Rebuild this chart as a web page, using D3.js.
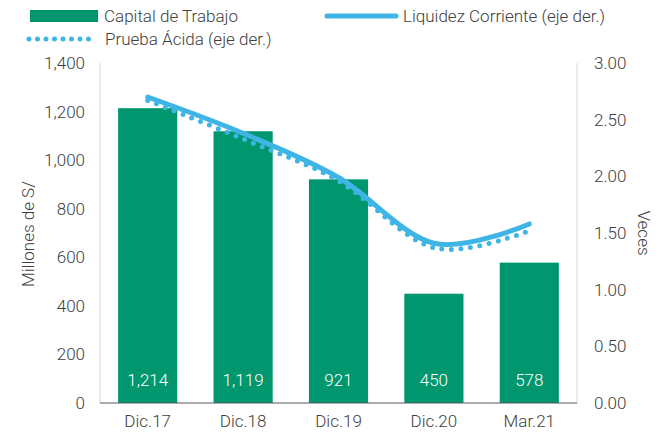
<!DOCTYPE html>
<html><head><meta charset="utf-8">
<script src="https://cdn.jsdelivr.net/npm/d3@7"></script>
<style>
body{margin:0;background:#fff;}
text{font-family:Roboto,"Open Sans",sans-serif;font-weight:300;}
</style></head>
<body><svg id="c" width="663" height="437"></svg>
<script>
const categories = ["Dic.17","Dic.18","Dic.19","Dic.20","Mar.21"];
const capitalTrabajo = [1214,1119,921,450,578];
const liquidezCorriente = [2.70,2.38,1.99,1.41,1.58];
const pruebaAcida = [2.67,2.33,1.96,1.37,1.52];
const leftTicks = [0,200,400,600,800,1000,1200,1400];
const rightTicks = [0,0.5,1,1.5,2,2.5,3];

const svg = d3.select("#c");
const m = {l:100, r:577, t:63, b:403};
const green = "#00976F", blue = "#3FB5E6", txt = "#404040";
const FS = 17;

const x = d3.scaleBand().domain(categories).range([m.l, m.r]).paddingInner(0.38).paddingOuter(0.19);
const yL = d3.scaleLinear().domain([0,1400]).range([m.b, m.t]);
const yR = d3.scaleLinear().domain([0,3]).range([m.b, m.t]);

svg.append("line").attr("x1",m.l).attr("x2",m.l).attr("y1",m.t).attr("y2",m.b).attr("stroke","#d9d9d9");
svg.append("line").attr("x1",m.r).attr("x2",m.r).attr("y1",m.t).attr("y2",m.b).attr("stroke","#d9d9d9");

svg.selectAll("rect.bar").data(capitalTrabajo).enter().append("rect")
  .attr("x",(d,i)=>x(categories[i])).attr("width",x.bandwidth())
  .attr("y",d=>yL(d)).attr("height",d=>m.b-yL(d)).attr("fill",green);
svg.selectAll("text.bl").data(capitalTrabajo).enter().append("text")
  .attr("x",(d,i)=>x(categories[i])+x.bandwidth()/2).attr("y",386)
  .attr("text-anchor","middle").attr("fill","#fff").attr("font-size",FS)
  .text(d=>d3.format(",")(d));

svg.append("line").attr("x1",m.l).attr("x2",m.r).attr("y1",m.b).attr("y2",m.b).attr("stroke","#595959").attr("stroke-width",1.2);

function styleAxis(g){
  g.select(".domain").remove();
  g.selectAll("text").attr("font-size",FS).attr("fill",txt).style("font-family","Roboto").style("font-weight",300);
}
styleAxis(svg.append("g").attr("transform",`translate(${m.l},0)`)
  .call(d3.axisLeft(yL).tickValues(leftTicks).tickFormat(d3.format(",")).tickSize(0).tickPadding(15)));
styleAxis(svg.append("g").attr("transform",`translate(${m.r},0)`)
  .call(d3.axisRight(yR).tickValues(rightTicks).tickFormat(d3.format(".2f")).tickSize(0).tickPadding(17)));
styleAxis(svg.append("g").attr("transform",`translate(0,${m.b})`)
  .call(d3.axisBottom(x).tickSize(0).tickPadding(12)));

svg.append("text").attr("transform","translate(34,234) rotate(-90)").attr("text-anchor","middle")
  .attr("font-size",FS).attr("fill",txt).text("Millones de S/");
svg.append("text").attr("transform","translate(638,233) rotate(90)").attr("text-anchor","middle")
  .attr("font-size",FS).attr("fill",txt).text("Veces");

const cx = (i)=>x(categories[i])+x.bandwidth()/2;
const line = d3.line().x((d,i)=>cx(i)).y(d=>yR(d)).curve(d3.curveCardinal.tension(0));
svg.append("path").attr("d",line(pruebaAcida)).attr("fill","none").attr("stroke",blue)
  .attr("stroke-width",5).attr("stroke-linecap","round").attr("stroke-dasharray","0 9.5");
svg.append("path").attr("d",line(liquidezCorriente)).attr("fill","none").attr("stroke",blue)
  .attr("stroke-width",5).attr("stroke-linecap","round");

svg.append("rect").attr("x",30).attr("y",10).attr("width",68).attr("height",12).attr("fill",green);
svg.append("text").attr("x",104).attr("y",22).attr("font-size",FS).attr("fill",txt).text("Capital de Trabajo");
svg.append("line").attr("x1",327).attr("x2",396).attr("y1",16).attr("y2",16).attr("stroke",blue).attr("stroke-width",5).attr("stroke-linecap","round");
svg.append("text").attr("x",403).attr("y",22).attr("font-size",FS).attr("fill",txt).text("Liquidez Corriente (eje der.)");
svg.append("line").attr("x1",29).attr("x2",89).attr("y1",39).attr("y2",39).attr("stroke",blue).attr("stroke-width",5).attr("stroke-linecap","round").attr("stroke-dasharray","0 8.5");
svg.append("text").attr("x",105).attr("y",45).attr("font-size",FS).attr("fill",txt).text("Prueba Ácida (eje der.)");
</script></body></html>
